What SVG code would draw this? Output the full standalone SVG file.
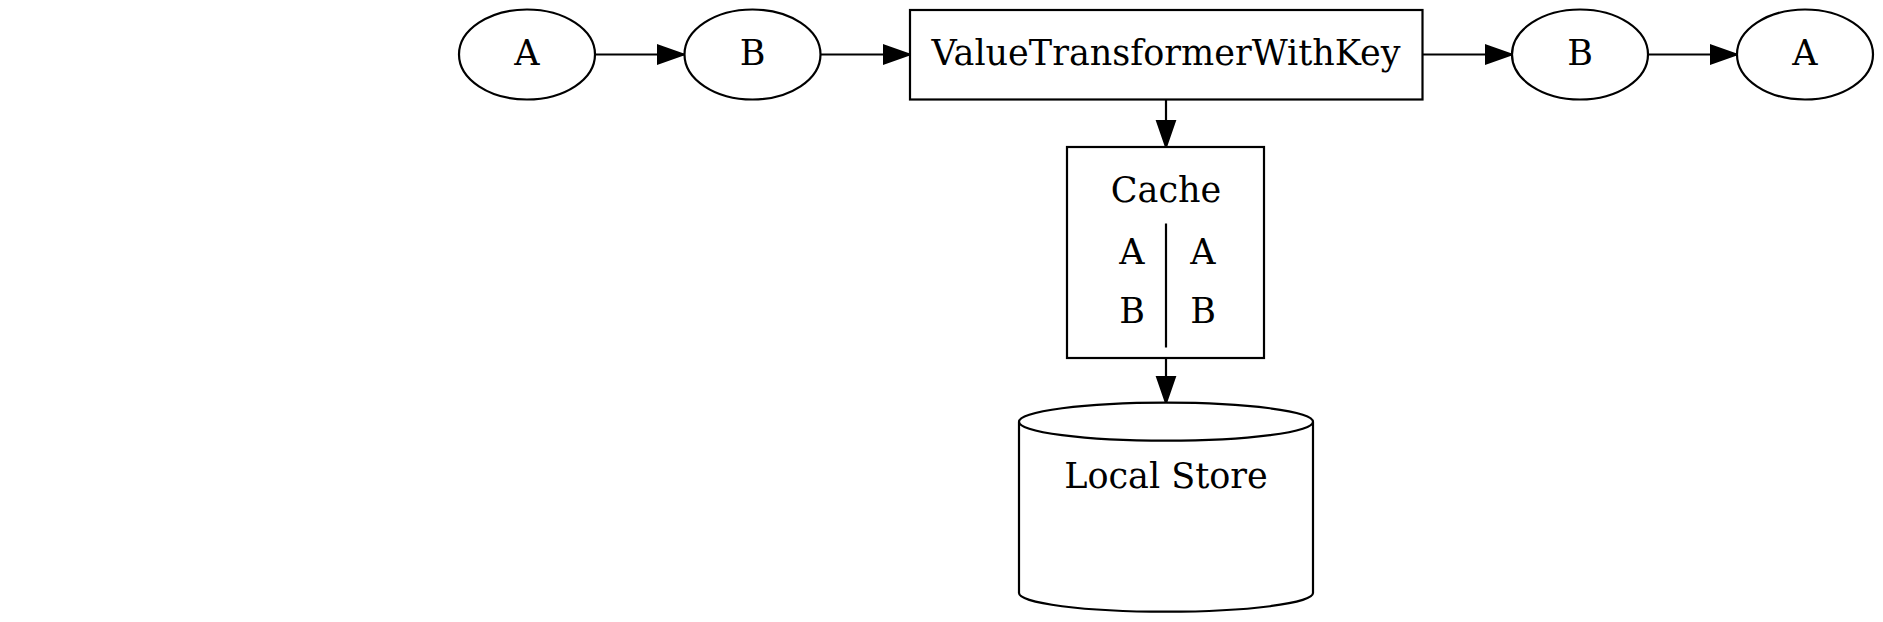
<svg xmlns="http://www.w3.org/2000/svg" width="1883" height="622" viewBox="0 0 1883 622">
<style>
.shape{fill:#fff;stroke:#000;stroke-width:2.2}
.edge{fill:none;stroke:#000;stroke-width:2.2}
text{font-family:"DejaVu Serif","Liberation Serif",serif;font-size:35px;fill:#000;text-anchor:middle}
</style>
<defs>
<marker id="arrow" markerUnits="userSpaceOnUse" markerWidth="30" markerHeight="22" refX="26" refY="9" orient="auto" viewBox="-2 -2 30 22">
<path d="M0,0 L26,9 L0,18 Z" fill="#000" stroke="#000" stroke-width="2"/>
</marker>
</defs>
<rect width="1883" height="622" fill="#fff"/>
<g id="edges">
<path class="edge" d="M595,54.5 H684" marker-end="url(#arrow)"/>
<path class="edge" d="M821,54.5 H910" marker-end="url(#arrow)"/>
<path class="edge" d="M1422.5,54.5 H1512" marker-end="url(#arrow)"/>
<path class="edge" d="M1648,54.5 H1737" marker-end="url(#arrow)"/>
<path class="edge" d="M1166,99.5 V147" marker-end="url(#arrow)"/>
<path class="edge" d="M1166,358 V403" marker-end="url(#arrow)"/>
</g>
<g id="a1">
<ellipse class="shape" cx="527" cy="54.5" rx="68" ry="45"/>
<text x="527" y="64.5">A</text>
</g>
<g id="b1">
<ellipse class="shape" cx="752.5" cy="54.5" rx="68" ry="45"/>
<text x="752.5" y="64.5">B</text>
</g>
<g id="transformer">
<rect class="shape" x="910" y="10" width="512.5" height="89.5"/>
<text x="1166" y="64.5">ValueTransformerWithKey</text>
</g>
<g id="b2">
<ellipse class="shape" cx="1580" cy="54.5" rx="68" ry="45"/>
<text x="1580" y="64.5">B</text>
</g>
<g id="a2">
<ellipse class="shape" cx="1805" cy="54.5" rx="68" ry="45"/>
<text x="1805" y="64.5">A</text>
</g>
<g id="cache">
<rect class="shape" x="1067" y="147" width="197" height="211"/>
<text x="1166" y="201.5">Cache</text>
<line class="edge" x1="1166" y1="223.5" x2="1166" y2="347.5"/>
<text x="1132" y="263.5">A</text>
<text x="1203" y="263.5">A</text>
<text x="1132" y="322.5">B</text>
<text x="1203" y="322.5">B</text>
</g>
<g id="store">
<path class="shape" d="M1019,421.7 V593 A147,18.7 0 0 0 1313,593 V421.7"/>
<ellipse class="shape" cx="1166" cy="421.7" rx="147" ry="19"/>
<text x="1166" y="487.5">Local Store</text>
</g>
</svg>
